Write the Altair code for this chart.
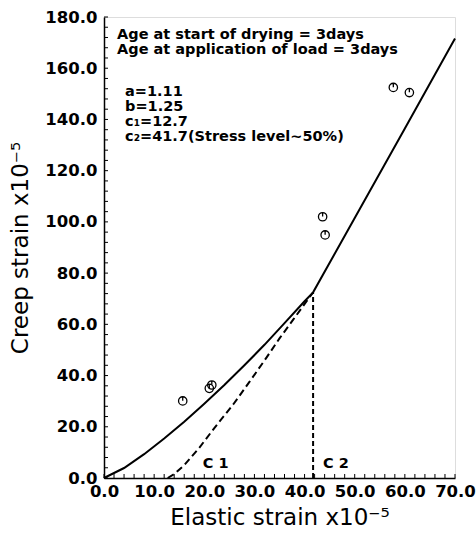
import altair as alt
import pandas as pd

# ---- data ----
solid_x = [0, 4, 8, 12, 16, 20, 24, 28, 32, 36, 40, 41.7, 50, 60, 70]
solid_y = [0, 3.9, 9.3, 15.4, 22.0, 29.0, 36.3, 44.0, 52.0, 60.5, 69.0, 72.5, 101.5, 136.5, 171.6]

dash_x = [12.7, 14, 16, 19, 22, 25.8, 29, 32.4, 35, 37.8, 41.7]
dash_y = [0, 1.5, 5.0, 11.8, 19.5, 28.8, 37.5, 47.0, 54.5, 62.0, 72.5]

c2_x = [41.7]
c2_y0 = [0]
c2_y1 = [72.5]

pts_x = [15.7, 21.0, 21.5, 43.6, 44.1, 57.7, 60.9]
pts_y = [30.1, 35.0, 36.3, 102.0, 94.9, 152.5, 150.5]

note_text = ["Age at start of drying = 3days", "Age at application of load = 3days",
             "a=1.11", "b=1.25", "c\u2081=12.7", "c\u2082=41.7(Stress level~50%)",
             "C 1", "C 2"]
note_x = [2.6, 2.6, 4.2, 4.2, 4.2, 4.2, 19.7, 43.7]
note_y = [173.0, 167.1, 150.7, 144.8, 138.9, 133.0, 5.6, 5.6]

x_labels = [0, 10, 20, 30, 40, 50, 60, 70]
y_labels = [0, 20, 40, 60, 80, 100, 120, 140, 160, 180]
x_minor = list(range(0, 71, 2))
y_minor = list(range(0, 181, 4))

W, H = 351, 461
FONT = "DejaVu Sans"

xs = alt.Scale(domain=[0, 70], nice=False, zero=False)
ys = alt.Scale(domain=[0, 180], nice=False, zero=False)

solid = pd.DataFrame({"x": solid_x, "y": solid_y, "o": range(len(solid_x))})
dash = pd.DataFrame({"x": dash_x, "y": dash_y, "o": range(len(dash_x))})
vline = pd.DataFrame({"x": c2_x, "y": c2_y0, "y2": c2_y1})
pts = pd.DataFrame({"x": pts_x, "y": pts_y})
notes = pd.DataFrame({"t": note_text, "x": note_x, "y": note_y})
xt = pd.DataFrame({"x": x_minor})
yt = pd.DataFrame({"y": y_minor})

x_axis = alt.Axis(values=x_labels, format=".1f", ticks=False, grid=False, domainColor="black",
                  domainWidth=1.5, labelFont=FONT, labelFontWeight="bold", labelFontSize=16.5,
                  labelColor="black", labelPadding=5, labelFlush=False,
                  title="Elastic strain  x10\u207b\u2075", titleFont=FONT, titleFontSize=23,
                  titleFontWeight="normal", titleColor="black", titlePadding=7)
y_axis = alt.Axis(values=y_labels, format=".1f", ticks=False, grid=False, domainColor="black",
                  domainWidth=1.5, labelFont=FONT, labelFontWeight="bold", labelFontSize=16.5,
                  labelColor="black", labelPadding=7, labelFlush=False,
                  title="Creep strain  x10\u207b\u2075", titleFont=FONT, titleFontSize=23,
                  titleFontWeight="normal", titleColor="black", titlePadding=12)

base_solid = alt.Chart(solid).mark_line(color="black", strokeWidth=2).encode(
    x=alt.X("x:Q", scale=xs, axis=x_axis),
    y=alt.Y("y:Q", scale=ys, axis=y_axis),
    order="o:Q",
)
dashed = alt.Chart(dash).mark_line(color="black", strokeWidth=2, strokeDash=[7, 4]).encode(
    x=alt.X("x:Q", scale=xs), y=alt.Y("y:Q", scale=ys), order="o:Q")
vrule = alt.Chart(vline).mark_rule(color="black", strokeWidth=2, strokeDash=[5, 3]).encode(
    x=alt.X("x:Q", scale=xs), y=alt.Y("y:Q", scale=ys), y2="y2:Q")

shape = "M0,-1 A1,1 0 1,1 0,1 A1,1 0 1,1 0,-1 M0,-1 L0,-0.05"
points = alt.Chart(pts).mark_point(shape=shape, size=70, filled=False, color="black",
                                   strokeWidth=1.3, opacity=1).encode(
    x=alt.X("x:Q", scale=xs), y=alt.Y("y:Q", scale=ys))

text = alt.Chart(notes).mark_text(align="left", baseline="middle", font=FONT,
                                  fontWeight="bold", fontSize=14.5, color="black").encode(
    x=alt.X("x:Q", scale=xs), y=alt.Y("y:Q", scale=ys), text="t:N")

xticks = alt.Chart(xt).mark_rule(color="black", strokeWidth=1).encode(
    x=alt.X("x:Q", scale=xs), y=alt.value(H), y2=alt.value(H - 4))
yticks = alt.Chart(yt).mark_rule(color="black", strokeWidth=1).encode(
    y=alt.Y("y:Q", scale=ys), x=alt.value(0), x2=alt.value(4))

chart = alt.layer(base_solid, dashed, vrule, points, text, xticks, yticks).properties(
    width=W, height=H,
    padding={"left": 104, "top": 17, "right": 21, "bottom": 58},
    autosize=alt.AutoSizeParams(type="none"),
).configure_view(stroke=None).configure(background="white")

chart.save("out.html", embed_options={"renderer": "svg", "actions": False})
